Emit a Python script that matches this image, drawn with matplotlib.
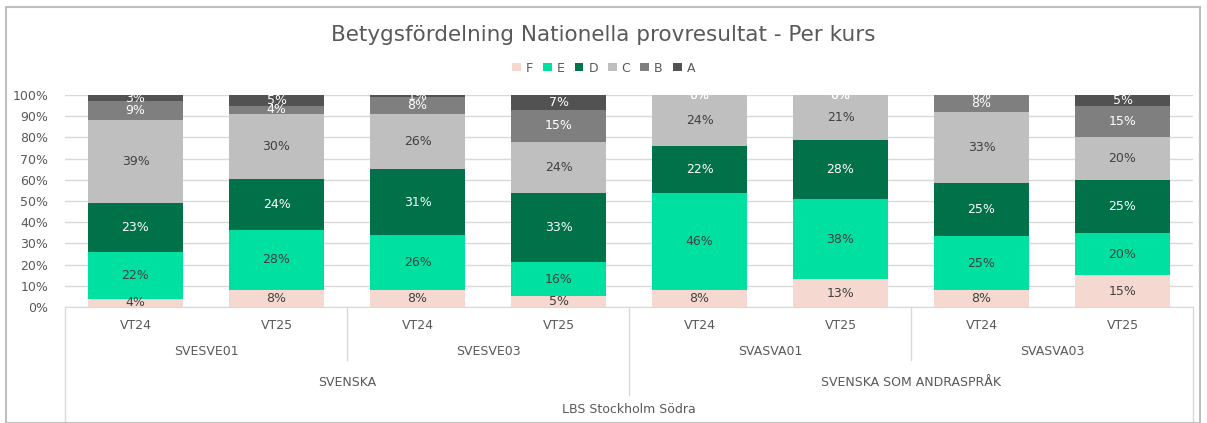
import numpy as np
import matplotlib
matplotlib.use('Agg')
import matplotlib.pyplot as plt
from matplotlib.patches import Rectangle, Patch
import matplotlib.transforms as mtransforms

# data (andel i %)
TERMS = ['VT24', 'VT25', 'VT24', 'VT25', 'VT24', 'VT25', 'VT24', 'VT25']
COURSES = ['SVESVE01', 'SVESVE03', 'SVASVA01', 'SVASVA03']
SUBJECTS = ['SVENSKA', 'SVENSKA SOM ANDRASPRÅK']
SCHOOL = 'LBS Stockholm Södra'
GRADES = ['F', 'E', 'D', 'C', 'B', 'A']

F = [4, 8, 8, 5, 8, 13, 8, 15]
E = [22, 28, 26, 16, 46, 38, 25, 20]
D = [23, 24, 31, 33, 22, 28, 25, 25]
C = [39, 30, 26, 24, 24, 21, 33, 20]
B = [9, 4, 8, 15, 0, 0, 8, 15]
A = [3, 5, 1, 7, 0, 0, 0, 5]

COLORS = ['#F5D9D0', '#00E0A0', '#007148', '#BFBFBF', '#7F7F7F', '#525252']
LABEL_COLORS = ['#404040', '#404040', 'white', '#404040', 'white', 'white']
TXT = '#595959'

W, H = 1207, 423
fig = plt.figure(figsize=(W / 100, H / 100), dpi=100)
fig.patches.append(Rectangle((6 / W, 0), 1194 / W, 1 - 7 / H, transform=fig.transFigure,
                             fill=False, edgecolor='#BFBFBF', lw=1.5))

ax = fig.add_axes([65 / W, 1 - 307 / H, 1128 / W, 212 / H])
x = np.arange(len(TERMS))
series = [np.array(s, dtype=float) for s in [F, E, D, C, B, A]]
totals = np.sum(series, axis=0)  # 100 % staplat diagram
bottom = np.zeros(len(TERMS))
for vals, col, lc in zip(series, COLORS, LABEL_COLORS):
    h = vals / totals * 100
    ax.bar(x, h, 0.67, bottom=bottom, color=col, zorder=3)
    for xi, b, hh, v in zip(x, bottom, h, vals):
        ax.text(xi, b + hh / 2, f'{int(v)}%', ha='center', va='center',
                fontsize=9, color=lc, zorder=4)
    bottom += h

ax.set_xlim(-0.5, len(TERMS) - 0.5)
ax.set_ylim(0, 100)
ax.set_yticks(np.arange(0, 101, 10))
ax.set_yticklabels([f'{t}%' for t in range(0, 101, 10)], color=TXT, fontsize=9)
ax.yaxis.grid(True, color='#D9D9D9', lw=1, zorder=0)
ax.tick_params(axis='y', length=0, pad=12)
ax.set_xticks([])
for s in ['top', 'right', 'left']:
    ax.spines[s].set_visible(False)
ax.spines['bottom'].set_color('#D9D9D9')

# hierarkisk kategoriaxel
tr = mtransforms.blended_transform_factory(ax.transData, ax.transAxes)
line_kw = dict(color='#D9D9D9', lw=1, transform=tr, clip_on=False)
for xi, t in zip(x, TERMS):
    ax.text(xi, -0.085, t, ha='center', va='center', fontsize=9, color=TXT, transform=tr)
for i, c in enumerate(COURSES):
    ax.text(2 * i + 0.5, -0.21, c, ha='center', va='center', fontsize=9, color=TXT, transform=tr)
for i, s in enumerate(SUBJECTS):
    ax.text(4 * i + 1.5, -0.355, s, ha='center', va='center', fontsize=9, color=TXT, transform=tr)
ax.text(3.5, -0.485, SCHOOL, ha='center', va='center', fontsize=9, color=TXT, transform=tr)
for xb in [1.5, 5.5]:
    ax.plot([xb, xb], [0, -0.25], **line_kw)
ax.plot([3.5, 3.5], [0, -0.415], **line_kw)
for xb in [-0.5, 7.5]:
    ax.plot([xb, xb], [0, -0.54], **line_kw)

fig.text(0.5, 1 - 35 / H, 'Betygsfördelning Nationella provresultat - Per kurs',
         ha='center', va='center', fontsize=15.5, color=TXT)
handles = [Patch(facecolor=c, edgecolor='none') for c in COLORS]
fig.legend(handles, GRADES, loc='center', bbox_to_anchor=(0.5, 1 - 68 / H), ncol=6,
           frameon=False, fontsize=9, labelcolor=TXT, handlelength=0.7, handleheight=0.7,
           handletextpad=0.4, columnspacing=0.8)

fig.savefig('out.png', dpi=100)
